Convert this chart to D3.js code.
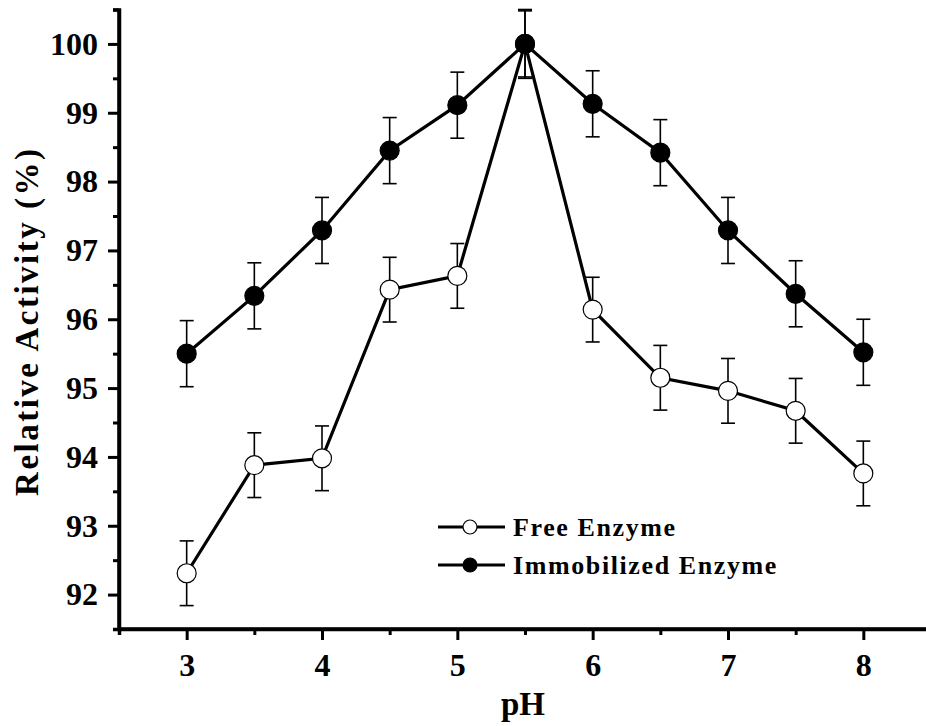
<!DOCTYPE html>
<html lang="en">
<head>
    <meta charset="UTF-8">
    <title>Relative Activity vs pH</title>
    <script src="https://d3js.org/d3.v7.min.js"></script>
    <style>
        body {margin: 0; background: white;}
        text {
            font-family: "Liberation Serif", "Times New Roman", serif;
            font-weight: bold;
        }
    </style>
</head>
<body>
<script>
    const width = 926;
    const height = 726;

    const pH = [3, 3.5, 4, 4.5, 5, 5.5, 6, 6.5, 7, 7.5, 8];
    const freeEnzyme = [92.31, 93.88, 93.98, 96.43, 96.63, 100, 96.14, 95.15, 94.96, 94.67, 93.76];
    const freeErr = [0.47, 0.47, 0.47, 0.47, 0.47, 0.5, 0.47, 0.47, 0.47, 0.47, 0.47];
    const immobilized = [95.50, 96.34, 97.29, 98.45, 99.11, 100, 99.13, 98.42, 97.29, 96.37, 95.52];
    const immobErr = [0.48, 0.48, 0.48, 0.48, 0.48, 0.48, 0.48, 0.48, 0.48, 0.48, 0.48];
    const xTicks = [3, 4, 5, 6, 7, 8];
    const yTicks = [92, 93, 94, 95, 96, 97, 98, 99, 100];

    const svg = d3.select("body").append("svg")
            .attr("width", width).attr("height", height);

    const x = d3.scaleLinear().domain([2.5, 8.5]).range([119, 931]);
    const y = d3.scaleLinear().domain([91.5, 100.5]).range([629, 9.5]);

    // axes: major ticks with labels, minor ticks in between
    const xAxis = svg.append("g").attr("transform", "translate(0,629)")
            .call(d3.axisBottom(x).tickValues(xTicks).tickSize(11).tickPadding(13).tickFormat(d3.format("d")));
    svg.append("g").attr("transform", "translate(0,629)")
            .call(d3.axisBottom(x).tickValues(d3.range(2.5, 8.6, 0.5).filter(d => d % 1 !== 0)).tickSize(6).tickFormat(""));

    const yAxis = svg.append("g").attr("transform", "translate(119,0)")
            .call(d3.axisLeft(y).tickValues(yTicks).tickSize(11).tickPadding(10).tickFormat(d3.format("d")));
    svg.append("g").attr("transform", "translate(119,0)")
            .call(d3.axisLeft(y).tickValues(d3.range(91.5, 100.6, 1)).tickSize(6).tickFormat(""));

    svg.selectAll(".domain").attr("stroke", "black").attr("stroke-width", 3.5);
    svg.selectAll(".tick line").attr("stroke", "black").attr("stroke-width", 3);
    svg.selectAll(".tick text").style("font-size", "32px").attr("fill", "black");

    // the axis domain path has outer ticks of 0 by default
    xAxis.select(".domain").attr("d", `M${x(2.5)},0H${x(8.5)}`);
    yAxis.select(".domain").attr("d", `M0,${y(91.5)}V${y(100.5)}`);

    svg.append("text")
            .attr("transform", `translate(38,${(y(91.5) + y(100.5)) / 2 + 2}) rotate(-90)`)
            .attr("text-anchor", "middle")
            .style("font-size", "33px")
            .style("letter-spacing", "2.5px")
            .text("Relative Activity (%)");

    svg.append("text")
            .attr("x", 523).attr("y", 715)
            .attr("text-anchor", "middle")
            .style("font-size", "33px")
            .text("pH");

    const line = d3.line().x(d => x(d.x)).y(d => y(d.v));

    function drawSeries(values, errs, filled) {
        const data = pH.map((p, i) => ({x: p, v: values[i], e: errs[i]}));
        const g = svg.append("g");

        const bars = g.selectAll("g.err").data(data).enter().append("g").attr("class", "err");
        bars.append("line")
                .attr("x1", d => x(d.x)).attr("x2", d => x(d.x))
                .attr("y1", d => y(d.v - d.e)).attr("y2", d => y(d.v + d.e))
                .attr("stroke", "black").attr("stroke-width", 1.6);
        [-1, 1].forEach(s => {
            bars.append("line")
                    .attr("x1", d => x(d.x) - 7).attr("x2", d => x(d.x) + 7)
                    .attr("y1", d => y(d.v + s * d.e)).attr("y2", d => y(d.v + s * d.e))
                    .attr("stroke", "black").attr("stroke-width", 1.6);
        });

        g.append("path").datum(data)
                .attr("d", line)
                .attr("fill", "none")
                .attr("stroke", "black")
                .attr("stroke-width", 3.2);

        g.selectAll("circle").data(data).enter().append("circle")
                .attr("cx", d => x(d.x)).attr("cy", d => y(d.v))
                .attr("r", 9.5)
                .attr("fill", filled ? "black" : "white")
                .attr("stroke", "black")
                .attr("stroke-width", 1.2);
    }

    drawSeries(freeEnzyme, freeErr, false);
    drawSeries(immobilized, immobErr, true);

    // legend
    const legend = [
        {label: "Free Enzyme", filled: false, y: 527},
        {label: "Immobilized Enzyme", filled: true, y: 565}
    ];
    const lg = svg.selectAll("g.legend").data(legend).enter().append("g").attr("class", "legend");
    lg.append("line")
            .attr("x1", 438).attr("x2", 505)
            .attr("y1", d => d.y).attr("y2", d => d.y)
            .attr("stroke", "black").attr("stroke-width", 3);
    lg.append("circle")
            .attr("cx", 470).attr("cy", d => d.y).attr("r", 7)
            .attr("fill", d => d.filled ? "black" : "white")
            .attr("stroke", "black").attr("stroke-width", 1.2);
    lg.append("text")
            .attr("x", 513).attr("y", d => d.y + 9)
            .style("font-size", "26px")
            .style("letter-spacing", "1.6px")
            .text(d => d.label);
</script>
</body>
</html>
